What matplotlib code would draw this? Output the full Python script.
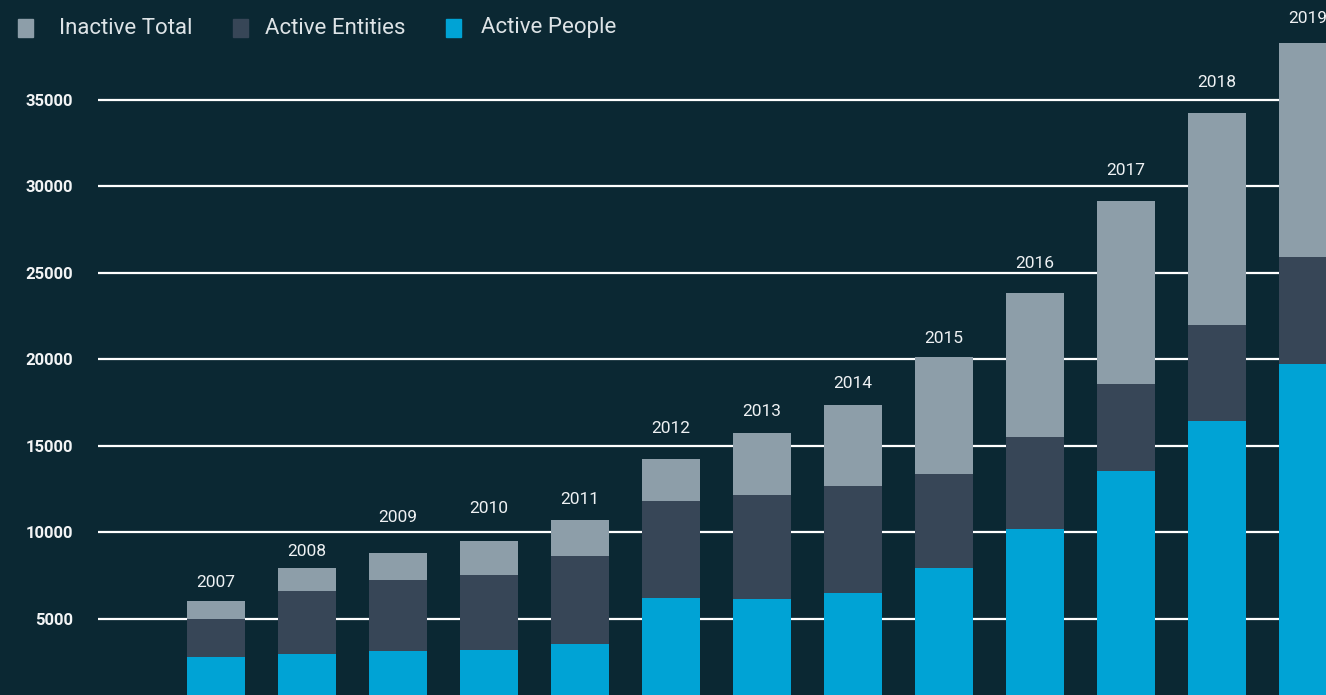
import matplotlib.pyplot as plt
from matplotlib.patches import Rectangle
import numpy as np

years = ['2007', '2008', '2009', '2010', '2011', '2012', '2013',
         '2014', '2015', '2016', '2017', '2018', '2019']
active_people = [2800, 2980, 3150, 3210, 3560, 6210, 6160,
                 6500, 7950, 10200, 13550, 16440, 19740]
active_entities = [2200, 3640, 4100, 4330, 5080, 5610, 6010,
                   6190, 5430, 5320, 5030, 5550, 6180]
inactive_total = [1040, 1330, 1560, 1970, 2080, 2430, 3580,
                  4680, 6760, 8320, 10580, 12250, 12370]
# gap (px) between each bar top and its year label
label_gap = [11, 9, 28, 25, 13, 23, 14, 14, 11, 22, 23, 23, 17]

bg = '#0b2833'
c_people = '#00a3d5'
c_entities = '#374657'
c_inactive = '#8d9ea9'

plt.rcParams['font.family'] = ['Roboto', 'DejaVu Sans']

fig = plt.figure(figsize=(13.26, 6.95), dpi=100, facecolor=bg)
ax = fig.add_axes([98 / 1326, 0, 1228 / 1326, 1], facecolor=bg)

x = np.arange(len(years))
people = np.array(active_people)
entities = np.array(active_entities)
inactive = np.array(inactive_total)
w = 0.64

ax.bar(x, people, w, color=c_people, zorder=3)
ax.bar(x, entities, w, bottom=people, color=c_entities, zorder=3)
ax.bar(x, inactive, w, bottom=people + entities, color=c_inactive, zorder=3)

totals = people + entities + inactive
for xi, t, yr, g in zip(x, totals, years, label_gap):
    ax.annotate(yr, (xi, t), xytext=(0, g * 0.72), textcoords='offset points',
                ha='center', va='bottom', color='#eef1f3', fontsize=12.5)

ax.set_xlim(-1.297, 12.198)
ax.set_ylim(607, 40780)
ax.set_yticks([5000, 10000, 15000, 20000, 25000, 30000, 35000])
ax.yaxis.grid(True, color='white', linewidth=1.6, zorder=0)
ax.set_axisbelow(True)
ax.tick_params(axis='y', length=0, pad=18, labelcolor='#f2f4f5',
               labelsize=12)
for lbl in ax.get_yticklabels():
    lbl.set_fontweight('bold')
ax.set_xticks([])
for s in ax.spines.values():
    s.set_visible(False)

# legend drawn by hand: square swatch then label
W, H = 1326, 695
legend_items = [('Inactive Total', c_inactive, 18, 59),
                ('Active Entities', c_entities, 233, 265),
                ('Active People', c_people, 446, 481)]
for name, col, sx, tx in legend_items:
    fig.add_artist(Rectangle((sx / W, 1 - 37 / H), 15 / W, 18 / H,
                             transform=fig.transFigure, color=col))
    fig.text(tx / W, 1 - 28 / H, name, color='#dde3e6', fontsize=16,
             ha='left', va='center')

fig.savefig('out.png', dpi=100, facecolor=bg)
